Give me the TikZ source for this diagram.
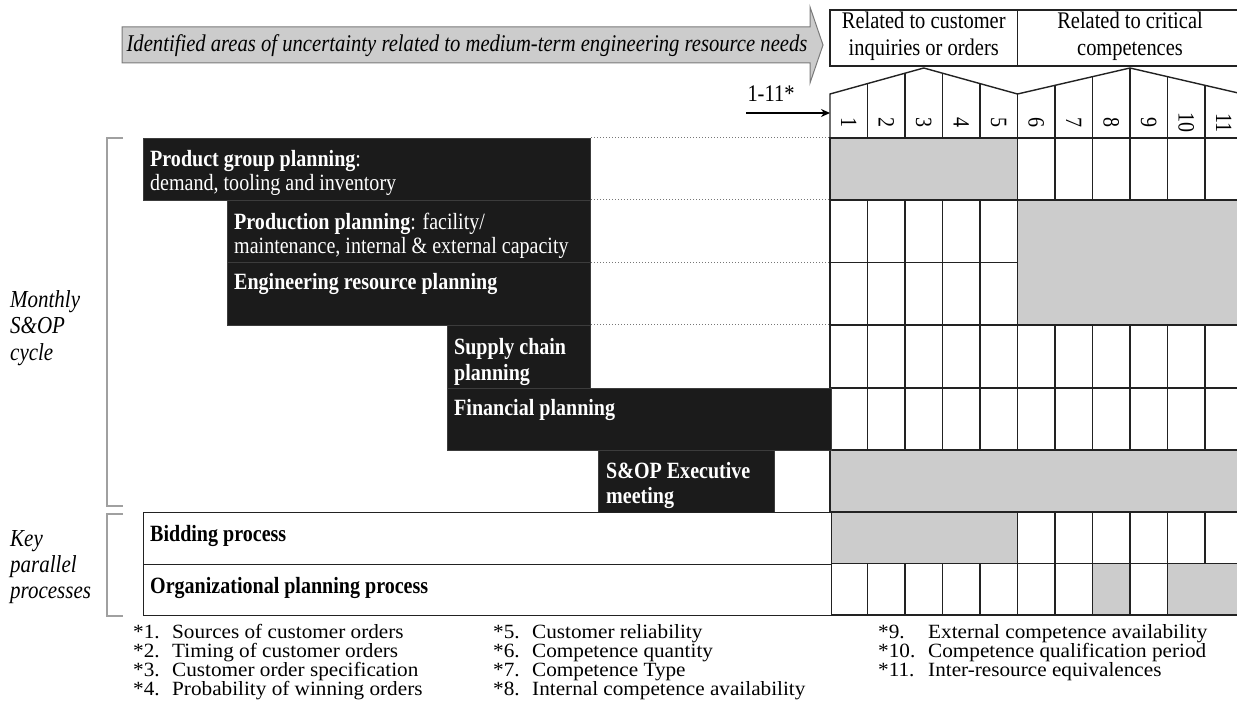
\documentclass[tikz,border=0pt]{standalone}
\usepackage{fontspec}
\setmainfont{Liberation Serif}[FakeStretch=0.86]
\newfontfamily\legfont{Liberation Serif}[FakeStretch=1.05]
\usetikzlibrary{arrows.meta}
\definecolor{boxblack}{HTML}{1B1B1B}
\definecolor{boxedge}{HTML}{3C3C3C}
\definecolor{shade}{HTML}{CCCCCC}
\definecolor{gridc}{HTML}{222222}
\definecolor{brk}{HTML}{A0A0A0}
\definecolor{arrfill}{HTML}{CCCCCC}
\definecolor{arrdraw}{HTML}{7A7A7A}
\definecolor{dotc}{HTML}{777777}
\begin{document}
\begin{tikzpicture}[x=1pt,y=-1pt,
  blk/.style={fill=boxblack, draw=boxedge, line width=1pt, inner sep=0, anchor=north west},
  wbox/.style={fill=white, draw=gridc, line width=1.4pt, inner sep=0, anchor=north west},
  btxt/.style={font=\fontsize{23.3}{24}\selectfont, text=white, anchor=base west, inner sep=0},
  ktxt/.style={font=\fontsize{23.3}{24}\selectfont, text=black, anchor=base west, inner sep=0},
  itxt/.style={font=\fontsize{24.4}{26}\selectfont\itshape, anchor=base west, inner sep=0},
  atxt/.style={font=\fontsize{24}{26}\selectfont\itshape, anchor=base, inner sep=0},
  htxt/.style={font=\fontsize{23.8}{26}\selectfont, anchor=base, inner sep=0},
  ntxt/.style={font=\fontsize{23.3}{24}\selectfont, rotate=-90, inner sep=0},
  legt/.style={font=\legfont\fontsize{20.2}{19}\selectfont, anchor=base west, inner sep=0},
  gline/.style={draw=gridc, line width=1.4pt},
  dotl/.style={draw=dotc, line width=1pt, dotted},
  brkl/.style={draw=brk, line width=1.2pt}
]
\useasboundingbox (0,0) rectangle (1237,719);
\clip (0,0) rectangle (1237,719);

% ---------- big arrow ----------
\draw[fill=arrfill, draw=arrdraw, line width=1pt] (122,27) -- (810,27) -- (810,7) -- (823,45) -- (810,83) -- (810,63) -- (122,63) -- cycle;
\node[atxt] (arrtext) at (467,52) {Identified areas of uncertainty related to medium-term engineering resource needs};

% ---------- header boxes ----------
\draw[gline] (830,10) rectangle (1017.5,66);
\draw[gline] (1017.5,10) rectangle (1250,66);
\node[htxt] (h1a) at (923.75,29) {Related to customer};
\node[htxt] (h1b) at (923.75,56) {inquiries or orders};
\node[htxt] (h2a) at (1130,29) {Related to critical};
\node[htxt] (h2b) at (1130,56) {competences};

% roof and number columns
\draw[gline] (830,138) -- (830,94) -- (923.75,68) -- (1017.5,94) -- (1130,68) -- (1242.5,94);
\foreach \x/\y in {867.5/83.6, 905/73.2, 942.5/73.2, 980/83.6, 1017.5/94, 1055/85.33, 1092.5/76.67, 1130/68, 1167.5/76.67, 1205/85.33, 1242.5/94}
  \draw[gline] (\x,\y) -- (\x,138);
\foreach \i in {1,...,11}
  \node[ntxt] (n\i) at ({830+37.5*(\i-0.5)},123) {\i};

% ---------- grid ----------
\foreach \r/\ya/\yb in {1/138/200, 2/200/262.5, 3/262.5/325, 4/325/388, 5/388/450, 6/450/512, 7/512/563.5, 8/563.5/615}
  \foreach \c in {0,...,10}
    \draw[gline, fill=white] ({830+37.5*\c},\ya) rectangle ({830+37.5*(\c+1)},\yb);
\draw[gline, fill=shade] (830,138) rectangle (1017.5,200);
\draw[gline, fill=shade] (1017.5,200) rectangle (1242.5,325);
\draw[gline, fill=shade] (830,450) rectangle (1242.5,512);
\draw[gline, fill=shade] (830,512) rectangle (1017.5,563.5);
\draw[gline, fill=shade] (1092.5,563.5) rectangle (1130,615);
\draw[gline, fill=shade] (1167.5,563.5) rectangle (1242.5,615);
\coordinate (g0) at (830,138);
\coordinate (g1) at (830,200);
\coordinate (g2) at (830,262.5);
\coordinate (g3) at (830,325);
\coordinate (hdr) at (830,113);

% ---------- planning boxes ----------
\node[blk, minimum width=447pt, minimum height=62pt] (pg) at (143,138) {};
\node[blk, minimum width=363pt, minimum height=62.5pt] (pp) at (227,200) {};
\node[blk, minimum width=363pt, minimum height=62.5pt] (er) at (227,262.5) {};
\node[blk, minimum width=143pt, minimum height=63pt] (sc) at (447,325) {};
\node[blk, minimum width=384pt, minimum height=62pt] (fp) at (447,388) {};
\node[blk, minimum width=176pt, minimum height=62pt] (ex) at (598,450) {};
\node[wbox, minimum width=688pt, minimum height=51.5pt] (bp) at (143,512) {};
\node[wbox, minimum width=688pt, minimum height=51.5pt] (op) at (143,563.5) {};

\node[btxt] (pgt1) at (150,167) {\textbf{Product group planning}:};
\node[btxt] (pgt2) at (150,191) {demand, tooling and inventory};
\node[btxt] (ppt1) at (234,230) {\textbf{Production planning}: facility/};
\node[btxt] (ppt2) at (234,254) {maintenance, internal \& external capacity};
\node[btxt] (ert) at (234,290) {\textbf{Engineering resource planning}};
\node[btxt] (sct1) at (454,355) {\textbf{Supply chain}};
\node[btxt] (sct2) at (454,381) {\textbf{planning}};
\node[btxt] (fpt) at (454,415) {\textbf{Financial planning}};
\node[btxt] (ext1) at (606,478) {\textbf{S\&OP Executive}};
\node[btxt] (ext2) at (606,503) {\textbf{meeting}};
\node[ktxt] (bpt) at (150,541) {\textbf{Bidding process}};
\node[ktxt] (opt) at (150,593) {\textbf{Organizational planning process}};

% dotted guide lines
\draw[dotl] (pg.north east) -- (g0);
\draw[dotl] (pp.north east) -- (g1);
\draw[dotl] (er.north east) -- (g2);
\draw[dotl] (sc.north east) -- (g3);

% 1-11* arrow
\coordinate (a0) at (746,113);
\draw[-{Stealth[length=9pt,width=8pt]}, line width=1.5pt] (a0) -- (hdr);
\node[htxt] (alab) at (771,102) {1-11*};

% ---------- brackets ----------
\draw[brkl] (123,138) -- (107,138) -- (107,506) -- (123,506);
\draw[brkl] (123,514) -- (107,514) -- (107,616) -- (123,616);
\node[itxt] (m1) at (10,308) {Monthly};
\node[itxt] (m2) at (10,334) {S\&OP};
\node[itxt] (m3) at (10,360) {cycle};
\node[itxt] (k1) at (10,546) {Key};
\node[itxt] (k2) at (10,572) {parallel};
\node[itxt] (k3) at (10,598) {processes};

% ---------- legend ----------
\foreach \nm/\lx/\tx/\y/\lab/\txt in {
  a/133/172/638/*1./Sources of customer orders,
  b/133/172/657/*2./Timing of customer orders,
  c/133/172/676/*3./Customer order specification,
  d/133/172/695/*4./Probability of winning orders,
  e/493/532/638/*5./Customer reliability,
  f/493/532/657/*6./Competence quantity,
  g/493/532/676/*7./Competence Type,
  h/493/532/695/*8./Internal competence availability,
  i/878/928/638/*9./External competence availability,
  j/878/928/657/*10./Competence qualification period,
  k/878/928/676/*11./Inter-resource equivalences}
{
  \node[legt] (ll\nm) at (\lx,\y) {\lab};
  \node[legt] (lt\nm) at (\tx,\y) {\txt};
}
\end{tikzpicture}
\end{document}
